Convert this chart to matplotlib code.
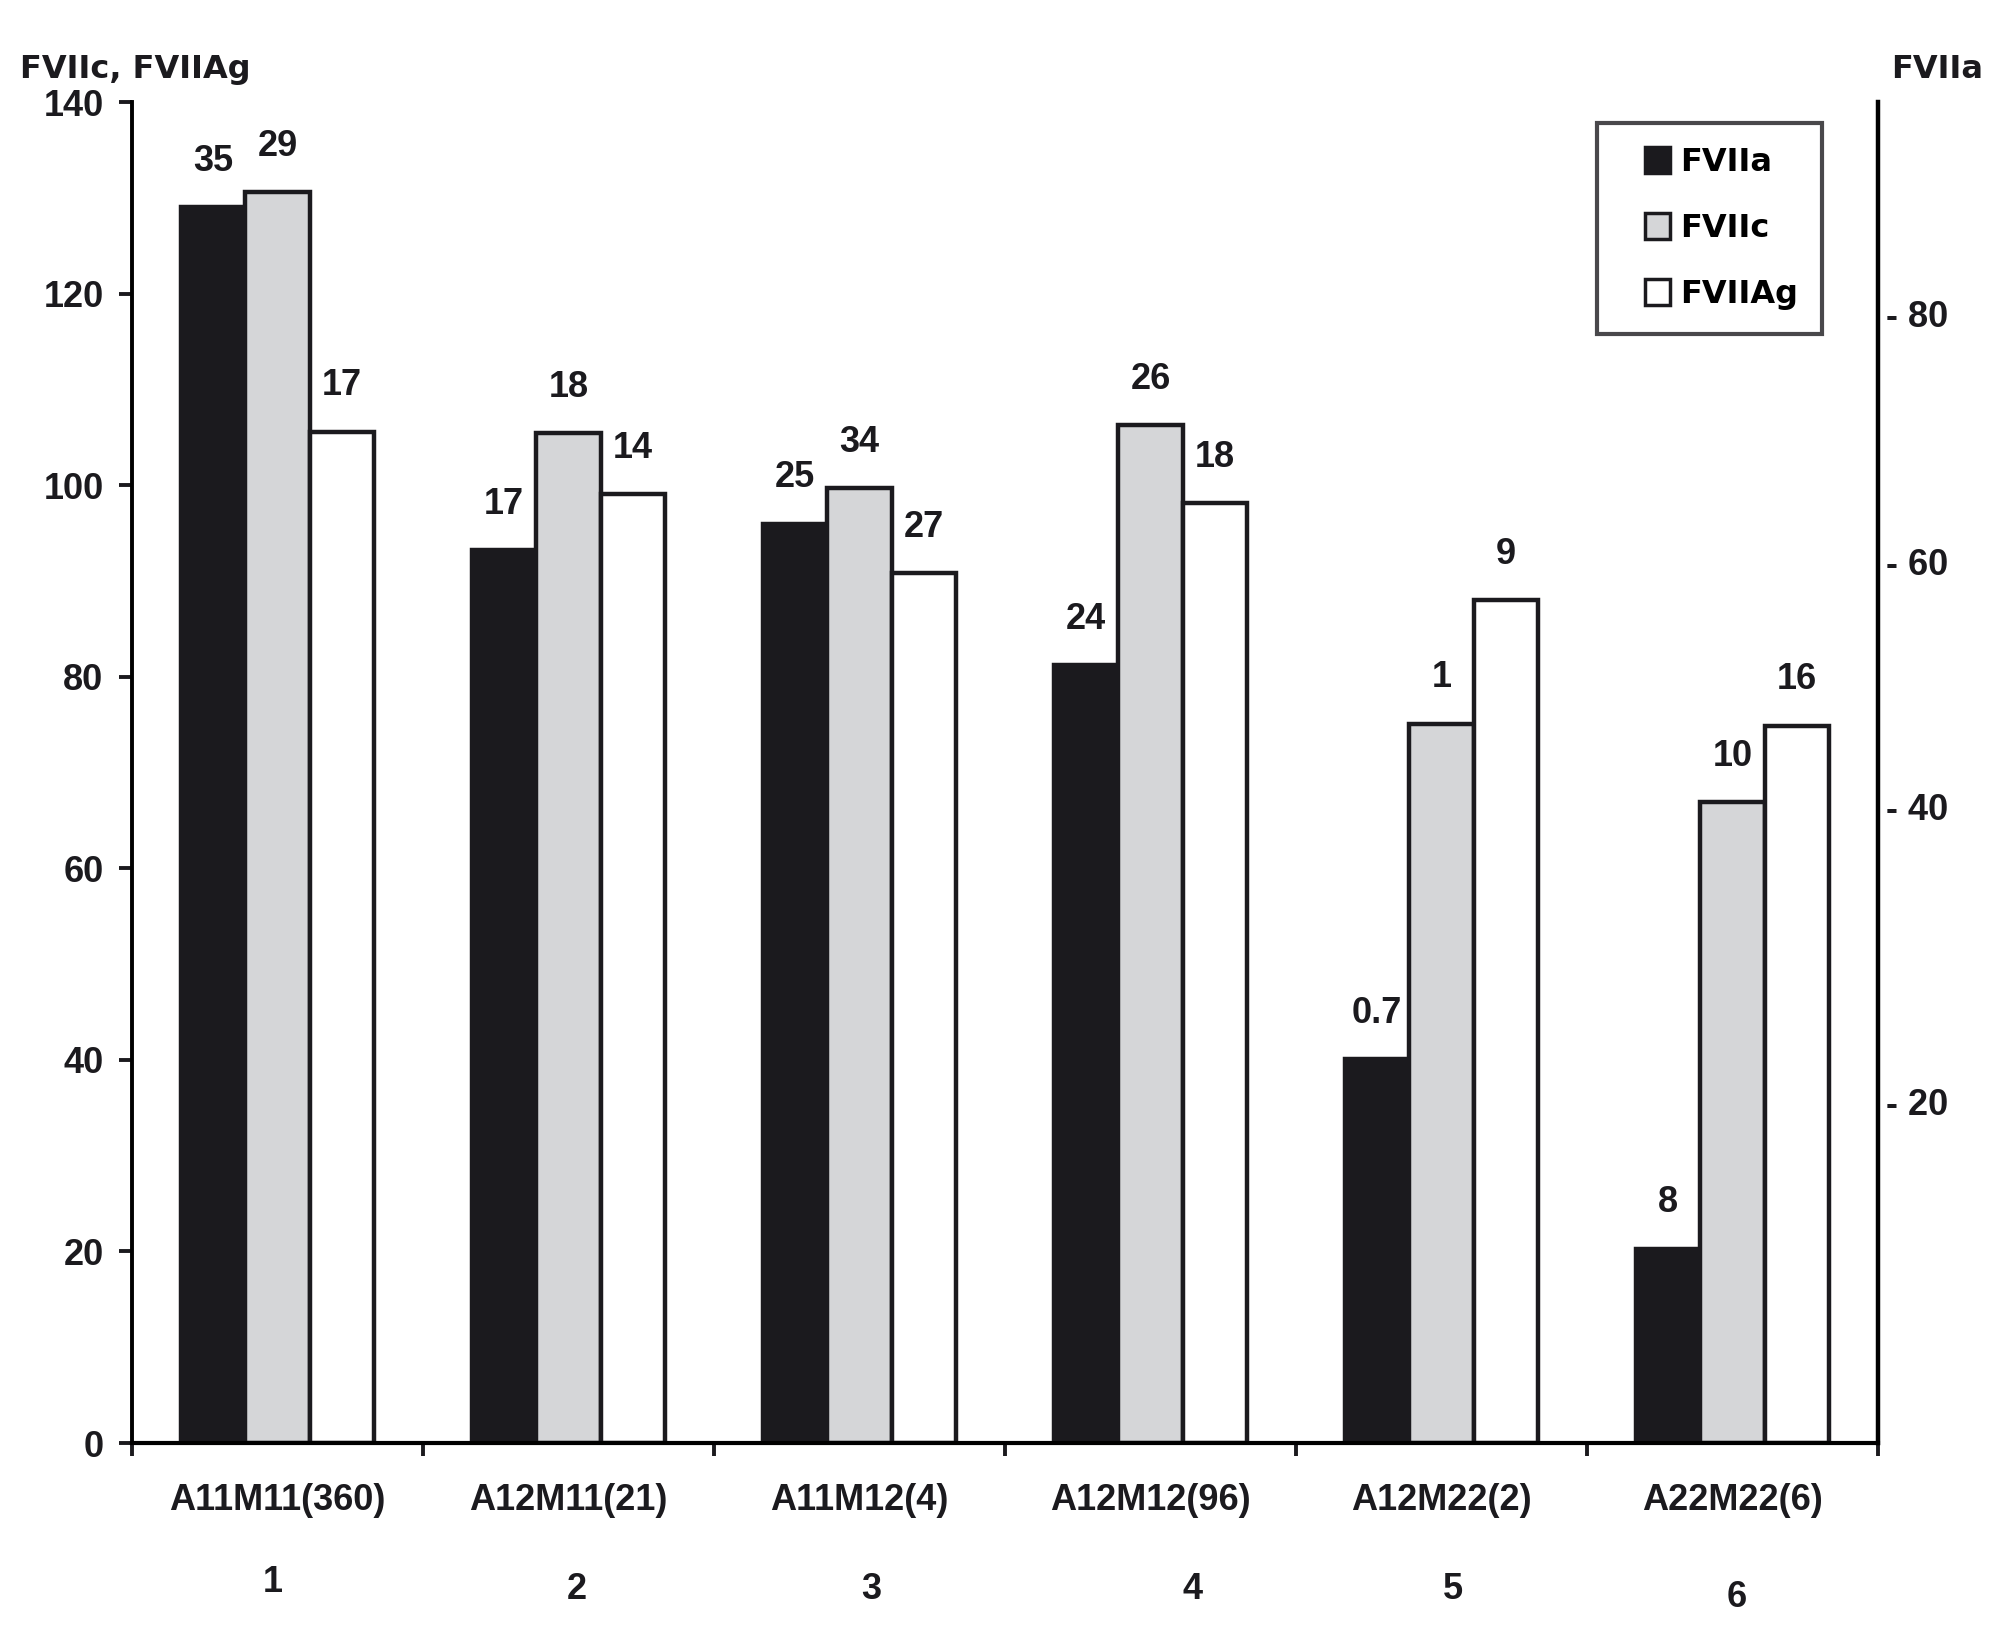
import matplotlib.pyplot as plt
from matplotlib.patches import Patch, Rectangle
from matplotlib.legend_handler import HandlerPatch
import numpy as np

# genotype groups (n) and group numbers
categories = ["A11M11(360)", "A12M11(21)", "A11M12(4)", "A12M12(96)", "A12M22(2)", "A22M22(6)"]
group_numbers = ["1", "2", "3", "4", "5", "6"]

# bar heights on the left scale (FVIIc, FVIIAg %)
fviia = [129.0, 93.2, 96.0, 81.2, 40.1, 20.3]
fviic = [130.6, 105.4, 99.7, 106.3, 75.1, 66.9]
fviiag = [105.6, 99.1, 90.8, 98.1, 88.0, 74.9]

# numbers printed above the bars
fviia_labels = ["35", "17", "25", "24", "0.7", "8"]
fviic_labels = ["29", "18", "34", "26", "1", "10"]
fviiag_labels = ["17", "14", "27", "18", "9", "16"]

# right axis (FVIIa) ticks and where they sit on the left scale
right_ticks = [20, 40, 60, 80]
right_tick_pos = [35.7, 66.5, 92.0, 117.9]

BLACK = "#1b1a1e"
GRAY = "#d5d6d8"
NUM_FONT = "Liberation Sans"
TXT_FONT = "DejaVu Sans"


def square_patch(legend, orig_handle, xdescent, ydescent, width, height, fontsize):
    # small square pushed to the right end of the handle box
    s = height
    return Rectangle((-xdescent + width - s, -ydescent), s, s)


fig = plt.figure(figsize=(20, 16.28), dpi=100)
ax = fig.add_axes([0.066, 0.1136, 0.873, 0.8237])

x = np.arange(len(categories)) + 0.5
w = 0.222
b1 = ax.bar(x - w, fviia, w, color=BLACK, edgecolor=BLACK, linewidth=3.2)
b2 = ax.bar(x, fviic, w, color=GRAY, edgecolor=BLACK, linewidth=3.2)
b3 = ax.bar(x + w, fviiag, w, color="white", edgecolor=BLACK, linewidth=3.2)

#value labels above each bar
for bars, labels in [(b1, fviia_labels), (b2, fviic_labels), (b3, fviiag_labels)]:
    for bar, lab in zip(bars, labels):
        ax.annotate(lab, (bar.get_x() + bar.get_width() / 2, bar.get_height()),
                    xytext=(0, 33), textcoords="offset points", ha="center", va="center",
                    fontsize=26, fontweight="bold", family=NUM_FONT, color=BLACK)

ax.set_xlim(0, 6)
ax.set_ylim(0, 140)
ax.set_yticks(np.arange(0, 141, 20))
ax.set_xticks(np.arange(0, 7))
ax.set_xticklabels([])
ax.tick_params(axis="y", direction="out", length=9.5, width=2.8, pad=11, labelsize=26, colors=BLACK)
ax.tick_params(axis="x", direction="out", length=9.5, width=2.8, colors=BLACK)
for lab in ax.get_yticklabels():
    lab.set_fontweight("bold")
    lab.set_family(NUM_FONT)

ax.spines["top"].set_visible(False)
ax.spines["left"].set_linewidth(2.8)
ax.spines["bottom"].set_linewidth(3)
ax.spines["right"].set_visible(False)

#category names and group numbers under the axis
tr = ax.get_xaxis_transform()
num_dx = [-0.017, 0.027, 0.041, 0.144, 0.038, 0.014]
num_y = [-0.1037, -0.1089, -0.1089, -0.1089, -0.1089, -0.1148]
for i in range(len(categories)):
    ax.text(x[i], -0.0425, categories[i], transform=tr, ha="center", va="center",
            fontsize=26, fontweight="bold", family=NUM_FONT, color=BLACK)
    ax.text(x[i] + num_dx[i], num_y[i], group_numbers[i], transform=tr, ha="center", va="center",
            fontsize=26, fontweight="bold", family=NUM_FONT, color=BLACK)

#right axis for FVIIa
ax2 = ax.twinx()
ax2.set_ylim(0, 140)
ax2.set_yticks(right_tick_pos)
ax2.set_yticklabels(["- " + str(t) for t in right_ticks])
ax2.tick_params(axis="y", length=0, pad=6, labelsize=26, colors=BLACK)
for lab in ax2.get_yticklabels():
    lab.set_fontweight("bold")
    lab.set_family(NUM_FONT)
for s in ["top", "left", "bottom"]:
    ax2.spines[s].set_visible(False)
ax2.spines["right"].set_linewidth(3.2)

#axis titles at the top corners
fig.text(0.010, 0.9521, "FVIIc, FVIIAg", ha="left", va="baseline",
         fontsize=23, fontweight="bold", family=TXT_FONT, color=BLACK)
fig.text(0.9915, 0.9521, "FVIIa", ha="right", va="baseline",
         fontsize=23, fontweight="bold", family=TXT_FONT, color=BLACK)

handles = [Patch(facecolor=BLACK, edgecolor=BLACK, linewidth=2.5),
           Patch(facecolor=GRAY, edgecolor=BLACK, linewidth=2.5),
           Patch(facecolor="white", edgecolor=BLACK, linewidth=2.5)]
leg = fig.legend(handles, ["FVIIa", "FVIIc", "FVIIAg"], loc="upper left",
                 bbox_to_anchor=(1597 / 2000, 1 - 123 / 1628), frameon=True, fancybox=False,
                 prop={"family": TXT_FONT, "weight": "bold", "size": 23},
                 handler_map={Patch: HandlerPatch(patch_func=square_patch)},
                 handlelength=1.55, handleheight=0.85, handletextpad=0.3,
                 labelspacing=1.1, borderpad=0.75, borderaxespad=0)
leg.get_frame().set_edgecolor(BLACK)
leg.get_frame().set_linewidth(3)

plt.savefig("out.png", dpi=100)
